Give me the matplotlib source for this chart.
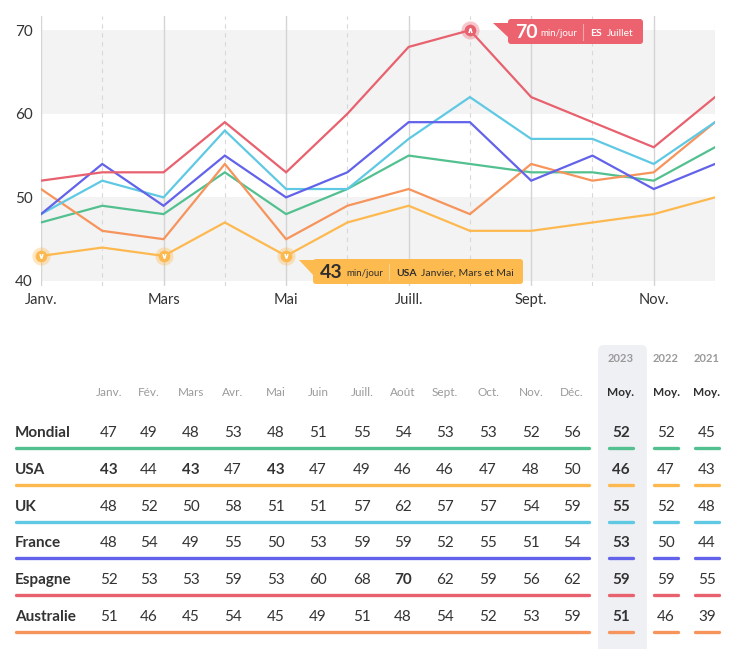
import matplotlib
matplotlib.use('Agg')
import matplotlib.pyplot as plt
from matplotlib.patches import FancyBboxPatch, Polygon
import numpy as np

plt.rcParams['font.family'] = ['Lato', 'DejaVu Sans']

MONTHS = ['Janv.', 'Fév.', 'Mars', 'Avr.', 'Mai', 'Juin', 'Juill.', 'Août',
          'Sept.', 'Oct.', 'Nov.', 'Déc.']
REGIONS = ['Mondial', 'USA', 'UK', 'France', 'Espagne', 'Australie']
mondial   = [47, 49, 48, 53, 48, 51, 55, 54, 53, 53, 52, 56]
usa       = [43, 44, 43, 47, 43, 47, 49, 46, 46, 47, 48, 50]
uk        = [48, 52, 50, 58, 51, 51, 57, 62, 57, 57, 54, 59]
france    = [48, 54, 49, 55, 50, 53, 59, 59, 52, 55, 51, 54]
espagne   = [52, 53, 53, 59, 53, 60, 68, 70, 62, 59, 56, 62]
australie = [51, 46, 45, 54, 45, 49, 51, 48, 54, 52, 53, 59]
YEARS = ['2023', '2022', '2021']
avg_2023 = [52, 46, 55, 53, 59, 51]
avg_2022 = [52, 47, 52, 50, 59, 46]
avg_2021 = [45, 43, 48, 44, 55, 39]

SERIES = [mondial, usa, uk, france, espagne, australie]
COLORS = ['#52c08f', '#fdb94f', '#5fc9e4', '#6262ea', '#e8616e', '#f6945c']
BOLD_CELLS = {(1, 0), (1, 2), (1, 4), (4, 7)}

fig = plt.figure(figsize=(7.5, 6.49), dpi=100)

# ---------------- line chart ----------------
ax = fig.add_axes([41/750, 1-286/649, 674/750, 270/649])
x = np.arange(12)
ax.set_xlim(0, 11)
ax.set_ylim(39.4, 71.7)
for s in ax.spines.values():
    s.set_visible(False)
ax.axhspan(60, 70, color='#f3f3f3', zorder=0, lw=0)
ax.axhspan(40, 50, color='#f3f3f3', zorder=0, lw=0)
for i in x:
    if i % 2 == 0:
        ax.axvline(i, color='#d4d4d4', lw=1, zorder=1)
    else:
        ax.axvline(i, color='#d8d8d8', lw=0.8, ls=(0, (4, 4)), zorder=1)

order = [0, 5, 1, 2, 3, 4]
for k in order:
    ax.plot(x, SERIES[k], color=COLORS[k], lw=1.6, zorder=3, solid_joinstyle='miter')

ax.set_yticks([40, 50, 60, 70])
ax.set_xticks(x[::2])
ax.set_xticklabels(MONTHS[::2])
ax.tick_params(axis='x', length=0, labelsize=10.5, colors='#333333', pad=5)
ax.tick_params(axis='y', length=0, labelsize=11, colors='#333333', pad=6)

# highlight markers
usa_idx = [0, 2, 4]
uy = [usa[i] for i in usa_idx]
ax.scatter(usa_idx, uy, s=170, color=COLORS[1], alpha=0.35, lw=0, zorder=5, clip_on=False)
ax.scatter(usa_idx, uy, s=70, color=COLORS[1], lw=0, zorder=6, clip_on=False)
ax.scatter(usa_idx, uy, s=9, color='white', marker=r'$\vee$', lw=0.6, zorder=7, clip_on=False)
ax.scatter([7], [espagne[7]], s=170, color=COLORS[4], alpha=0.35, lw=0, zorder=5, clip_on=False)
ax.scatter([7], [espagne[7]], s=70, color=COLORS[4], lw=0, zorder=6, clip_on=False)
ax.scatter([7], [espagne[7]], s=9, color='white', marker=r'$\wedge$', lw=0.6, zorder=7, clip_on=False)

# ---------------- overlay in pixel coords ----------------
ov = fig.add_axes([0, 0, 1, 1], zorder=10)
ov.set_xlim(0, 750)
ov.set_ylim(649, 0)
ov.axis('off')
ov.patch.set_alpha(0)

# USA callout
ov.add_patch(FancyBboxPatch((313, 259), 210, 25, boxstyle='round,pad=0,rounding_size=3', fc='#fdba4e', ec='none'))
ov.add_patch(Polygon([(299, 260), (314, 260), (314, 276)], closed=True, fc='#fdba4e', ec='none'))
ov.text(320, 272, '43', fontsize=14, fontweight='bold', color='#2e2e2e', va='center', ha='left')
ov.text(346, 273, 'min/jour', fontsize=7, color='#2e2e2e', va='center', ha='left')
ov.plot([389, 389], [264, 280], color='#f7d28c', lw=0.8)
ov.text(396, 273, 'USA', fontsize=7.5, fontweight='bold', color='#2e2e2e', va='center', ha='left')
ov.text(421, 273, 'Janvier, Mars et Mai', fontsize=7.5, color='#2e2e2e', va='center', ha='left')

# Espagne callout
ov.add_patch(FancyBboxPatch((508, 19), 135, 25, boxstyle='round,pad=0,rounding_size=3', fc='#ec636f', ec='none'))
ov.add_patch(Polygon([(493, 23), (509, 23), (509, 38)], closed=True, fc='#ec636f', ec='none'))
ov.text(515, 32, '70', fontsize=14, fontweight='bold', color='white', va='center', ha='left')
ov.text(540, 33, 'min/jour', fontsize=7, color='white', va='center', ha='left')
ov.plot([583, 583], [24, 40], color='#f4a5ab', lw=0.8)
ov.text(590, 33, 'ES', fontsize=7.5, fontweight='bold', color='white', va='center', ha='left')
ov.text(607, 33, 'Juillet', fontsize=7.5, color='white', va='center', ha='left')

# ---------------- table ----------------
month_x = [109, 149, 191, 233, 276, 318, 362, 403, 445, 488, 531, 572]
avg_x = [621, 666, 707]
row_y = [433, 470, 507, 543, 580, 617]
AVGS = [avg_2023, avg_2022, avg_2021]

ov.add_patch(FancyBboxPatch((598, 345), 49, 320, boxstyle='round,pad=0,rounding_size=6',
                            fc='#eff0f4', ec='none', zorder=0))

for mx, m in zip(month_x, MONTHS):
    ov.text(mx, 393, m, fontsize=8.5, color='#9a9a9a', ha='center', va='center')
for ax_, yr in zip(avg_x, YEARS):
    ov.text(ax_, 359, yr, fontsize=8, fontweight='bold', color='#9a9a9a', ha='center', va='center')
    ov.text(ax_, 393, 'Moy.', fontsize=8.5, fontweight='bold', color='#2e2e2e', ha='center', va='center')

for r, (name, vals, col, ry) in enumerate(zip(REGIONS, SERIES, COLORS, row_y)):
    ov.text(15, ry, name, fontsize=11, fontweight='bold', color='#333333', ha='left', va='center')
    for c_, (mx, v) in enumerate(zip(month_x, vals)):
        fw = 'bold' if (r, c_) in BOLD_CELLS else 'normal'
        ov.text(mx, ry, str(v), fontsize=11, fontweight=fw, color='#333333', ha='center', va='center')
    ov.plot([16, 589], [ry + 15, ry + 15], color=col, lw=2.4, solid_capstyle='round')
    for j, (ax_, a) in enumerate(zip(avg_x, AVGS)):
        fw = 'bold' if j == 0 else 'normal'
        ov.text(ax_, ry, str(a[r]), fontsize=11, fontweight=fw, color='#333333', ha='center', va='center')
        ov.plot([ax_ - 12, ax_ + 12], [ry + 15, ry + 15], color=col, lw=2.4, solid_capstyle='round')

fig.savefig('out.png', dpi=100)
